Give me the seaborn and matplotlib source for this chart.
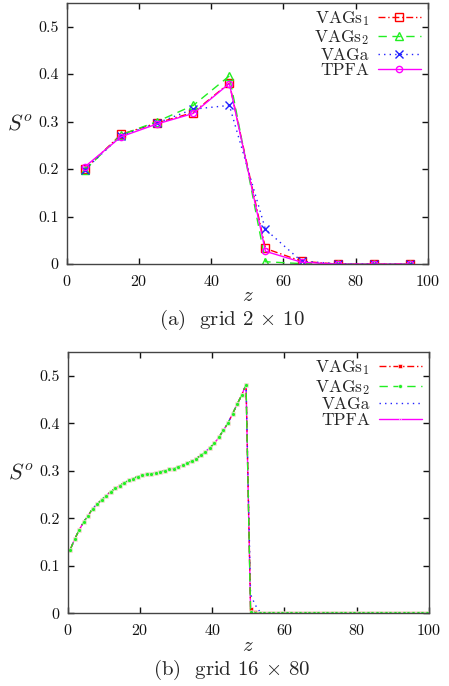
import matplotlib
matplotlib.use("Agg")
import matplotlib.pyplot as plt
import seaborn as sns
import numpy as np
import pandas as pd
from matplotlib.ticker import FuncFormatter, MultipleLocator

# ---------------- data ----------------
# (a) grid 2 x 10 : cell centres
z_coarse = [5, 15, 25, 35, 45, 55, 65, 75, 85, 95]
vags1_coarse = [0.200, 0.273, 0.297, 0.319, 0.381, 0.033, 0.006, 0.000, 0.000, 0.000]
vags2_coarse = [0.198, 0.272, 0.300, 0.334, 0.396, 0.005, 0.001, 0.000, 0.000, 0.000]
vaga_coarse = [0.199, 0.270, 0.297, 0.326, 0.334, 0.073, 0.006, 0.001, 0.000, 0.000]
tpfa_coarse = [0.205, 0.268, 0.295, 0.317, 0.380, 0.027, 0.004, 0.000, 0.000, 0.000]

# (b) grid 16 x 80 : cell centres z = 0.625 ... 99.375
z_fine = [0.625 + 1.25 * i for i in range(80)]
# values behind the front (z < 50), shared by all schemes
behind_front = [0.133, 0.156, 0.175, 0.192, 0.206, 0.220, 0.230, 0.239, 0.248, 0.256,
                0.263, 0.269, 0.275, 0.280, 0.284, 0.288, 0.291, 0.293, 0.294, 0.296,
                0.298, 0.300, 0.303, 0.305, 0.309, 0.312, 0.316, 0.321, 0.326, 0.333,
                0.340, 0.349, 0.358, 0.371, 0.386, 0.401, 0.420, 0.440, 0.459, 0.482]
# values ahead of the front (z > 50)
vags1_ahead = [0.010, 0.002] + [0.0] * 38
vags2_ahead = [0.002, 0.000] + [0.0] * 38
vaga_ahead = [0.040, 0.018, 0.004] + [0.0] * 37
tpfa_ahead = [0.006, 0.001] + [0.0] * 38

labels = [r"VAGs$_1$", r"VAGs$_2$", "VAGa", "TPFA"]
caption_a = r"(a)  grid 2 $\times$ 10"
caption_b = r"(b)  grid 16 $\times$ 80"

# ---------------- style ----------------
sns.set_style("ticks")
plt.rcParams["font.family"] = ["cmr10", "DejaVu Serif"]
plt.rcParams["mathtext.fontset"] = "cm"
plt.rcParams["axes.formatter.use_mathtext"] = True
plt.rcParams["axes.unicode_minus"] = False

colors = ["#ff0000", "#22ee22", "#2222ff", "#ff00ff"]
dashes = [(0, (5, 2, 1, 2)), (0, (6, 4)), (0, (1, 3)), "-"]
markers_a = ["s", "^", "x", "o"]
msize_a = [5.5, 6, 5.5, 4.5]

fig = plt.figure(figsize=(4.49, 6.86), dpi=100)
ax1 = fig.add_axes([0.149, 0.615, 0.804, 0.381])
ax2 = fig.add_axes([0.151, 0.106, 0.804, 0.3805])

series_a = [vags1_coarse, vags2_coarse, vaga_coarse, tpfa_coarse]
for y, lab, c, ls, mk, ms in zip(series_a, labels, colors, dashes, markers_a, msize_a):
    df = pd.DataFrame({"z": z_coarse, "S": y})
    sns.lineplot(data=df, x="z", y="S", ax=ax1, color=c, linestyle=ls, lw=1.0,
                 marker=mk, markersize=ms, markerfacecolor="none", markeredgecolor=c,
                 markeredgewidth=1.0, label=lab, estimator=None, sort=False)

series_b = [behind_front + vags1_ahead, behind_front + vags2_ahead,
            behind_front + vaga_ahead, behind_front + tpfa_ahead]
markers_b = ["s", "o", "", "o"]
msize_b = [2.6, 2.8, 0, 1.2]
order_b = [3, 2, 0, 1]  # drawing order: TPFA, VAGa, VAGs1, VAGs2 on top
handles = [None] * 4
for i in order_b:
    y, lab, c, ls, mk, ms = series_b[i], labels[i], colors[i], dashes[i], markers_b[i], msize_b[i]
    df = pd.DataFrame({"z": z_fine, "S": y})
    kw = {}
    if mk:
        kw = dict(marker=mk, markersize=ms, markeredgewidth=0.4)
    sns.lineplot(data=df, x="z", y="S", ax=ax2, color=c, linestyle=ls, lw=1.0,
                 label=lab, estimator=None, sort=False, **kw)
    handles[i] = ax2.get_lines()[-1]

fmt = FuncFormatter(lambda v, p: "0" if abs(v) < 1e-9 else f"{v:.1f}")
for ax in (ax1, ax2):
    ax.set_xlim(0, 100)
    ax.set_ylim(0, 0.55)
    ax.xaxis.set_major_locator(MultipleLocator(20))
    ax.yaxis.set_major_locator(MultipleLocator(0.1))
    ax.yaxis.set_major_formatter(fmt)
    ax.tick_params(direction="in", length=4.5, width=1.0, top=True, right=True,
                   labelsize=11.5, colors="#111111", pad=6)
    ax.tick_params(axis="x", pad=7)
    for sp in ax.spines.values():
        sp.set_visible(True)
        sp.set_linewidth(1.0)
        sp.set_color("#444444")
    ax.set_xlabel(r"$z$", fontsize=15, labelpad=-1)
    ax.set_ylabel(r"$S^o$", fontsize=16, rotation=0, labelpad=12)
    ax.yaxis.set_label_coords(-0.13, 0.5)

ax1.legend(loc="upper right", bbox_to_anchor=(1.005, 1.01), frameon=False,
           markerfirst=False, fontsize=12.5, handlelength=2.5,
           handletextpad=0.5, labelspacing=0.02, borderaxespad=0.1)
ax2.legend(handles=handles, labels=labels, loc="upper right",
           bbox_to_anchor=(1.005, 1.01), frameon=False,
           markerfirst=False, fontsize=12.5, handlelength=2.5,
           handletextpad=0.5, labelspacing=0.02, borderaxespad=0.1)

fig.text(0.516, 0.533, caption_a, ha="center", va="center", fontsize=15)
fig.text(0.516, 0.024, caption_b, ha="center", va="center", fontsize=15)

fig.savefig("out.png", dpi=100)
